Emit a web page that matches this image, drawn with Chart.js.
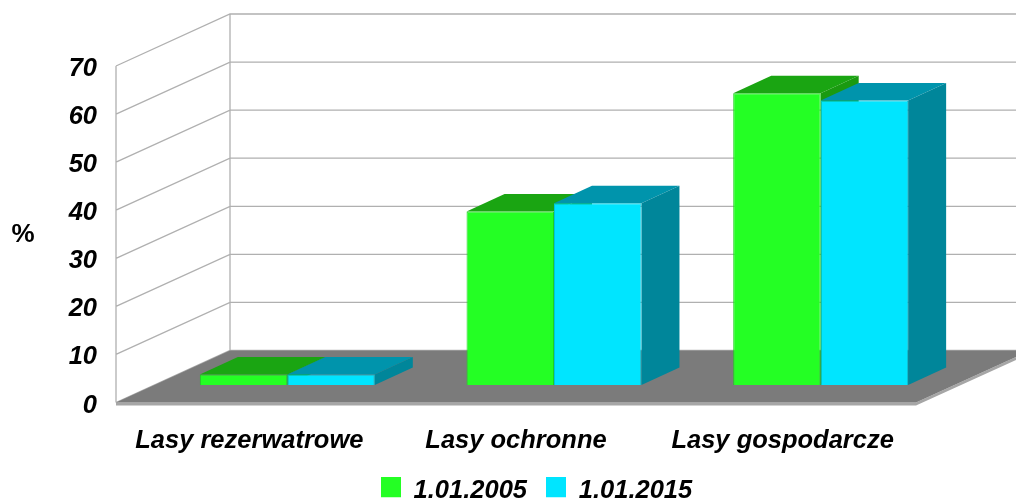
<!DOCTYPE html>
<html><head><meta charset="utf-8">
<style>html,body{margin:0;padding:0;background:#fff}#w{width:1016px;height:501px;position:relative}</style>
<script src="https://cdn.jsdelivr.net/npm/chart.js@4/dist/chart.umd.min.js"></script>
</head><body><div id="w"><canvas id="c"></canvas></div>
<script>
const categories = ["Lasy rezerwatrowe", "Lasy ochronne", "Lasy gospodarcze"];
const series2005 = [2.2, 36.1, 60.7];
const series2015 = [2.2, 37.8, 59.2];
const seriesNames = ["1.01.2005", "1.01.2015"];
const yTicks = [0, 10, 20, 30, 40, 50, 60, 70];
const unitLabel = "%";
const FONT = '"Liberation Sans", Arial, sans-serif';
const wall = {dx: 114, dy: -52};
const bar = {shiftX: 38, shiftY: -17.5, depthX: 38, depthY: -17.5};
const legendShift = {x: 78.5, y: 13};
const shades = [
  {front:'#24ff24', edge:'#1fd01f', top:'#1aa512', side:'#1a9a10'},
  {front:'#00e5ff', edge:'#00c4da', top:'#0094ac', side:'#00869a'}
];
function swatch(color){
  const c=document.createElement('canvas');
  c.width=20; c.height=28;
  const x=c.getContext('2d');
  x.fillStyle=color; x.fillRect(0,0,20,20);
  return c;
}
function poly(ctx, pts, fill){
  ctx.beginPath();
  pts.forEach((p,i)=> i? ctx.lineTo(p[0],p[1]) : ctx.moveTo(p[0],p[1]));
  ctx.closePath();
  ctx.fillStyle=fill;ctx.fill();
}
const scene = {
  id:'scene',
  afterLayout(chart){
    const l=chart.legend;
    l.left+=legendShift.x; l.right+=legendShift.x;
    l.top+=legendShift.y; l.bottom+=legendShift.y;
    if(l.adjustHitBoxes) l.adjustHitBoxes();
    chart.scales.x.bottom+=30;
  },
  beforeDatasetsDraw(chart){
    const {ctx, chartArea:a, scales:{y}} = chart;
    const L=a.left, R=a.right, B=y.getPixelForValue(0), T=y.getPixelForValue(70);
    const W=chart.width;
    ctx.save();
    ctx.strokeStyle='#b0b0b0'; ctx.lineWidth=1.3;
    ctx.beginPath();
    ctx.moveTo(L,B); ctx.lineTo(L,T);
    ctx.moveTo(L+wall.dx,B+wall.dy); ctx.lineTo(L+wall.dx,T+wall.dy);
    yTicks.forEach(v=>{
      const p=y.getPixelForValue(v);
      ctx.moveTo(L,p); ctx.lineTo(L+wall.dx,p+wall.dy); ctx.lineTo(W+20,p+wall.dy);
    });
    ctx.stroke();
    poly(ctx,[[L,B],[R,B],[R+wall.dx,B+wall.dy],[R+wall.dx,B+wall.dy+3],[R,B+3],[L,B+3]],'#a6a6a6');
    poly(ctx,[[L,B],[L+wall.dx,B+wall.dy],[R+wall.dx,B+wall.dy],[R,B]],'#7b7b7b');
    ctx.translate(bar.shiftX,bar.shiftY);
    chart.data.datasets.forEach((d,di)=>{
      const s=shades[di];
      chart.getDatasetMeta(di).data.forEach(el=>{
        const h=el.width/2, l=el.x-h, r=el.x+h, t=el.y, b=el.base;
        poly(ctx,[[l,t],[r,t],[r+bar.depthX,t+bar.depthY],[l+bar.depthX,t+bar.depthY]],s.top);
        poly(ctx,[[r,t],[r+bar.depthX,t+bar.depthY],[r+bar.depthX,b+bar.depthY],[r,b]],s.side);
      });
    });
    ctx.restore();
    ctx.save();
    ctx.translate(bar.shiftX,bar.shiftY);
  },
  afterDatasetsDraw(chart){
    chart.ctx.restore();
    const ctx=chart.ctx;
    ctx.save();
    ctx.font='bold 26px '+FONT;
    ctx.fillStyle='#000'; ctx.textAlign='center'; ctx.textBaseline='middle';
    ctx.fillText(unitLabel,23,235);
    ctx.restore();
  }
};
new Chart(document.getElementById('c'),{
  type:'bar',
  data:{labels:categories,datasets:[
    {label:seriesNames[0],data:series2005,backgroundColor:shades[0].front,borderColor:shades[0].edge,borderWidth:1,clip:false},
    {label:seriesNames[1],data:series2015,backgroundColor:shades[1].front,borderColor:shades[1].edge,borderWidth:1,clip:false}
  ]},
  options:{
    responsive:true,maintainAspectRatio:false,animation:false,
    layout:{padding:{top:66,right:100,left:0,bottom:0}},
    datasets:{bar:{barPercentage:1,categoryPercentage:0.656}},
    scales:{
      x:{
        grid:{display:false,drawTicks:false},border:{display:false},
        afterFit(s){s.height=44;},
        ticks:{color:'#000',padding:23,maxRotation:0,font:{family:FONT,size:25.5,weight:'bold',style:'italic'}}
      },
      y:{
        min:0,max:70,
        grid:{display:false,drawTicks:false},border:{display:false},
        afterFit(s){s.width=116;},
        afterBuildTicks(s){s.ticks=yTicks.map(v=>({value:v}));},
        ticks:{color:'#000',padding:19,labelOffset:3,font:{family:FONT,size:25.5,weight:'bold',style:'italic'}}
      }
    },
    plugins:{
      tooltip:{enabled:false},
      legend:{
        position:'bottom',
        labels:{boxWidth:20,boxHeight:20,padding:19,usePointStyle:true,color:'#000',font:{family:FONT,size:25.5,weight:'bold',style:'italic'},
          generateLabels(chart){
            return Chart.defaults.plugins.legend.labels.generateLabels(chart).map((it,i)=>{it.pointStyle=swatch(shades[i].front);return it;});
          }
        }
      }
    }
  },
  plugins:[scene]
});
</script></body></html>
